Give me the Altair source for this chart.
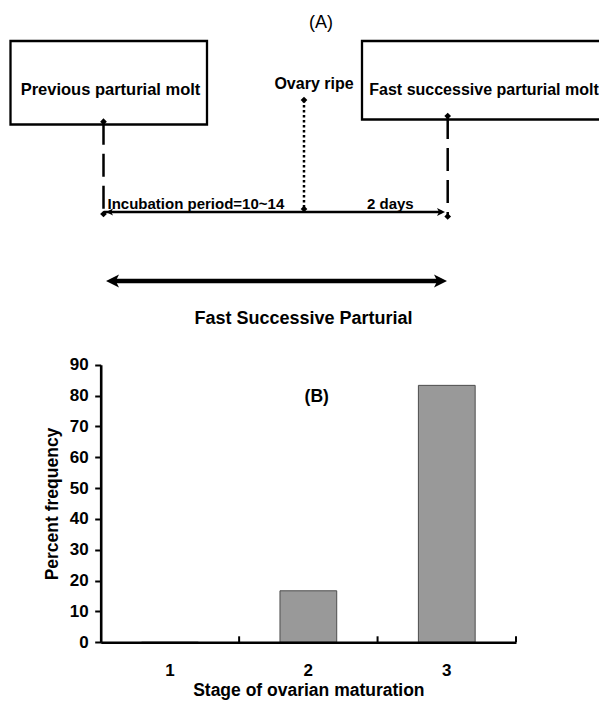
import altair as alt
import pandas as pd

# ---------------- Panel (B): bar chart values ----------------
stages = ["1", "2", "3"]
percent = [0.0, 16.7, 83.3]
y_tick_values = [0, 10, 20, 30, 40, 50, 60, 70, 80, 90]
x_title = "Stage of ovarian maturation"
y_title = "Percent frequency"

# ---------------- Panel (A): schematic (page-pixel coordinate space) ----------------
box_x1 = [10.5, 362.0]
box_x2 = [207.0, 640.0]
box_y1 = [41.0, 41.0]
box_y2 = [124.5, 119.5]

box_labels = ["Previous parturial molt", "Fast successive parturial molt"]
box_label_x = [110.5, 484.0]
box_label_y = [94.6, 94.6]

event_labels = ["Ovary ripe"]
event_label_x = [314.0]
event_label_y = [88.9]

interval_labels = ["Incubation period=10~14", "2 days"]
interval_label_x = [107.5, 367.0]
interval_label_y = [208.7, 208.7]

span_labels = ["Fast Successive Parturial"]
span_label_x = [303.5]
span_label_y = [323.8]

tag_labels = ["(A)"]
tag_x = [321.0]
tag_y = [27.5]

tagb_labels = ["(B)"]
tagb_x = [316.7]
tagb_y = [401.9]

dashed_x = [103.5, 447.7]
dashed_y1 = [121.7, 116.0]
dashed_y2 = [214.0, 216.5]

dotted_x = [304.0]
dotted_y1 = [100.0]
dotted_y2 = [209.0]

period_x1 = [104.0]
period_x2 = [445.0]
period_y = [212.0]

span_x1 = [106.0]
span_x2 = [447.0]
span_y = [281.0]

diamond_x = [103.5, 103.5, 304.0, 304.0, 447.7, 447.7]
diamond_y = [121.7, 214.0, 100.0, 209.0, 116.0, 216.5]

# ---------------- layout constants ----------------
W, H = 591, 692
OX, OY = 8, 8
FONT = "Liberation Sans"

RIGHT_HEAD = "M0,0L-2,-1L-1.5,0L-2,1Z"
LEFT_HEAD = "M0,0L2,-1L1.5,0L2,1Z"


def dx(field):
    return alt.X(field, type="quantitative",
                 scale=alt.Scale(domain=[OX, OX + W], range=[0, W], nice=False, zero=False),
                 axis=None)


def dy(field):
    return alt.Y(field, type="quantitative",
                 scale=alt.Scale(domain=[OY, OY + H], range=[0, H], nice=False, zero=False),
                 axis=None)


def text_layer(labels, xs, ys, size, weight="bold", align="center", font=FONT):
    df = pd.DataFrame({"label": labels, "x": xs, "y": ys})
    return alt.Chart(df).mark_text(
        font=font, fontSize=size, fontWeight=weight, align=align,
        baseline="alphabetic", color="black"
    ).encode(x=dx("x"), y=dy("y"), text="label:N")


# boxes
boxes = alt.Chart(pd.DataFrame({"x": box_x1, "x2": box_x2, "y": box_y1, "y2": box_y2})).mark_rect(
    filled=False, stroke="black", strokeWidth=2.3
).encode(x=dx("x"), x2="x2", y=dy("y"), y2="y2")

dashed = alt.Chart(pd.DataFrame({"x": dashed_x, "y": dashed_y1, "y2": dashed_y2})).mark_rule(
    color="black", strokeWidth=2.5, strokeDash=[23, 9]
).encode(x=dx("x"), y=dy("y"), y2="y2")

dotted = alt.Chart(pd.DataFrame({"x": dotted_x, "y": dotted_y1, "y2": dotted_y2})).mark_rule(
    color="black", strokeWidth=2.5, strokeDash=[2.5, 2.5]
).encode(x=dx("x"), y=dy("y"), y2="y2")

period = alt.Chart(pd.DataFrame({"x": period_x1, "x2": period_x2, "y": period_y})).mark_rule(
    color="black", strokeWidth=2.5, x2Offset=-3
).encode(x=dx("x"), x2="x2", y=dy("y"))

period_heads = alt.layer(
    alt.Chart(pd.DataFrame({"x": period_x2, "y": period_y})).mark_point(
        shape=RIGHT_HEAD, filled=True, color="black", size=64, opacity=1, strokeWidth=0
    ).encode(x=dx("x"), y=dy("y")),
    alt.Chart(pd.DataFrame({"x": [v + 2 for v in period_x1], "y": period_y})).mark_point(
        shape=LEFT_HEAD, filled=True, color="black", size=49, opacity=1, strokeWidth=0
    ).encode(x=dx("x"), y=dy("y")),
)

span = alt.Chart(pd.DataFrame({"x": span_x1, "x2": span_x2, "y": span_y})).mark_rule(
    color="black", strokeWidth=4.5, xOffset=8, x2Offset=-8
).encode(x=dx("x"), x2="x2", y=dy("y"))

span_right = alt.Chart(pd.DataFrame({"x": span_x2, "y": span_y})).mark_point(
    shape=RIGHT_HEAD, filled=True, color="black", size=169, opacity=1, strokeWidth=0
).encode(x=dx("x"), y=dy("y"))

span_left = alt.Chart(pd.DataFrame({"x": span_x1, "y": span_y})).mark_point(
    shape=LEFT_HEAD, filled=True, color="black", size=169, opacity=1, strokeWidth=0
).encode(x=dx("x"), y=dy("y"))

diamonds = alt.Chart(pd.DataFrame({"x": diamond_x, "y": diamond_y})).mark_point(
    shape="diamond", filled=True, color="black", size=45, opacity=1, strokeWidth=0
).encode(x=dx("x"), y=dy("y"))

texts = [
    text_layer(box_labels[:1], box_label_x[:1], box_label_y[:1], 16.5),
    text_layer(box_labels[1:], box_label_x[1:], box_label_y[1:], 16),
    text_layer(event_labels, event_label_x, event_label_y, 16),
    text_layer(interval_labels, interval_label_x, interval_label_y, 15, align="left"),
    text_layer(span_labels, span_label_x, span_label_y, 18),
    text_layer(tag_labels, tag_x, tag_y, 18, weight="normal"),
    text_layer(tagb_labels, tagb_x, tagb_y, 17.5),
]

# ---------------- Panel (B) ----------------
bar_df = pd.DataFrame({"stage": stages, "pct": percent})
Y0_PX, Y90_PX = 642.3 - OY, 364.7 - OY
XL_PX, XR_PX = 100.7 - OX, 516.0 - OX

xs = alt.Scale(domain=stages, range=[XL_PX, XR_PX], paddingInner=0, paddingOuter=0)
ys = alt.Scale(domain=[0, 90], range=[Y0_PX, Y90_PX], nice=False, zero=False)

x_axis = alt.Axis(
    orient="bottom", offset=-(H - Y0_PX), ticks=False, tickSize=0, labelAngle=0,
    labelFont=FONT, labelFontSize=17, labelFontWeight="bold", labelColor="black",
    labelPadding=20.5, domainColor="black", domainWidth=2.6, grid=False, zindex=1,
    title=x_title, titleFont=FONT, titleFontSize=17.5, titleFontWeight="bold",
    titleColor="black", titlePadding=3.1,
)
y_axis = alt.Axis(
    orient="left", offset=-XL_PX, values=y_tick_values, tickSize=6, tickWidth=2,
    tickColor="black", labelFont=FONT, labelFontSize=17, labelFontWeight="bold",
    labelColor="black", labelPadding=6.5, domainColor="black", domainWidth=2.6,
    grid=False, zindex=1,
    title=y_title, titleFont=FONT, titleFontSize=17.5, titleFontWeight="bold",
    titleColor="black", titlePadding=8,
)

bars = alt.Chart(bar_df).mark_bar(
    width=alt.RelativeBandSize(0.41), color="#999999", stroke="#4d4d4d", strokeWidth=1
).encode(
    x=alt.X("stage:N", scale=xs, axis=x_axis),
    y=alt.Y("pct:Q", scale=ys, axis=y_axis),
)

x_ticks = alt.Chart(bar_df).mark_tick(
    orient="vertical", size=6, thickness=2, color="black", yOffset=-3, opacity=1
).encode(
    x=alt.X("stage:N", scale=xs, axis=None, bandPosition=1),
    y=alt.Y(datum=0, type="quantitative", scale=ys, axis=None),
)

chart = alt.layer(
    bars, x_ticks, boxes, dashed, dotted, period, period_heads, span, span_right, span_left,
    diamonds, *texts
).resolve_scale(x="independent", y="independent").properties(
    width=W, height=H, autosize=alt.AutoSizeParams(type="none"), padding=0,
    background="white"
).configure_view(stroke="transparent")

chart.save("out.html", embed_options={"renderer": "svg", "actions": False})
